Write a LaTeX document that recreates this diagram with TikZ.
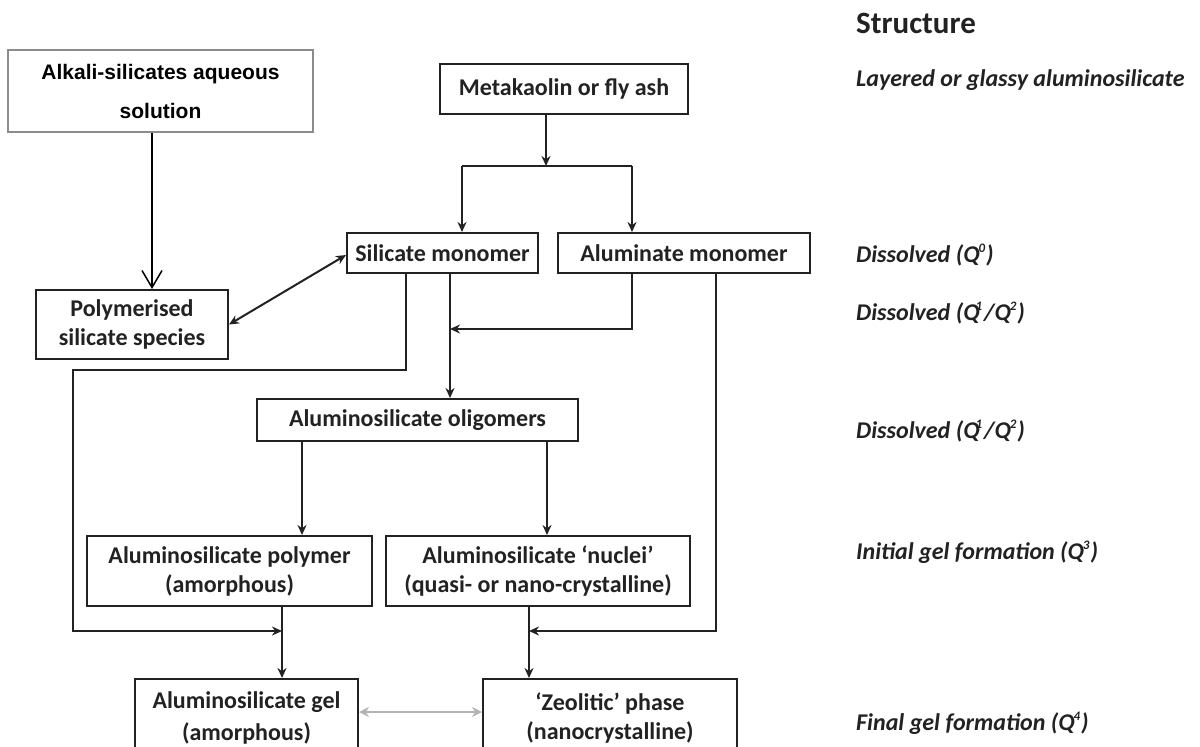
\documentclass[tikz,border=0pt]{standalone}
\usepackage{fontspec}
\setmainfont{Carlito}
\newfontfamily\arialfont{Liberation Sans}
\usetikzlibrary{arrows.meta}
\definecolor{linec}{HTML}{222222}
\definecolor{greyc}{HTML}{B4B4B4}
\definecolor{boxgrey}{HTML}{8C8C8C}
\newcommand{\supq}[2][0pt]{\kern#1\raisebox{9.5pt}{\fontsize{13}{13}\selectfont #2}}
\begin{document}
\begin{tikzpicture}[x=1pt,y=-1pt,
  box/.style={draw=linec, line width=2pt, fill=white, align=center, inner sep=0pt,
    font=\fontsize{24}{29}\selectfont\bfseries, text=linec},
  lab/.style={anchor=base west, inner sep=0pt, font=\fontsize{24}{29}\selectfont\bfseries\itshape, text=linec},
  link/.style={draw=linec, line width=2pt},
  conn/.style={link, -{Stealth[length=10pt,width=9pt]}},
  dconn/.style={link, {Stealth[length=10pt,width=9pt]}-{Stealth[length=10pt,width=9pt]}},
  gconn/.style={draw=greyc, line width=2.6pt, {Stealth[length=10pt,width=10pt]}-{Stealth[length=10pt,width=10pt]}},
  vconn/.style={draw=black, line width=1.5pt, -{Straight Barb[length=17pt,width=20pt,line width=1.5pt]}}
]
\useasboundingbox (0,0) rectangle (1200,747);
\clip (0,0) rectangle (1200,747);

% boxes
\node[box, draw=boxgrey, line width=1.5pt, minimum width=305pt, minimum height=82pt,
  font=\arialfont\fontsize{21}{39}\selectfont\bfseries, text=black]
  (alk) at (160.5,91) {Alkali-silicates aqueous\\solution};
\node[box, minimum width=248pt, minimum height=50pt] (meta) at (564,89) {Metakaolin or fly ash};
\node[box, minimum width=191pt, minimum height=40pt] (sil) at (442.5,253) {Silicate monomer};
\node[box, minimum width=252pt, minimum height=40pt] (alu) at (684,253) {Aluminate monomer};
\node[box, minimum width=192pt, minimum height=69pt] (poly) at (132,324.5) {Polymerised\\silicate species};
\node[box, minimum width=321pt, minimum height=42pt] (olig) at (417.5,420) {Aluminosilicate oligomers};
\node[box, minimum width=285pt, minimum height=70pt] (apoly) at (229.5,571) {Aluminosilicate polymer\\(amorphous)};
\node[box, minimum width=304pt, minimum height=70pt] (nuc) at (538,571) {Aluminosilicate ‘nuclei’\\(quasi- or nano-crystalline)};
\node[box, minimum width=223pt, minimum height=78pt, font=\fontsize{24}{32}\selectfont\bfseries] (gel) at (246.5,718) {Aluminosilicate gel\\(amorphous)};
\node[box, minimum width=254pt, minimum height=78pt] (zeo) at (610,718) {‘Zeolitic’ phase\\(nanocrystalline)};

% junction points
\coordinate (b1) at (546,166);
\coordinate (bl) at (462,166);
\coordinate (br) at (632,166);
\coordinate (jm) at (450,329);
\coordinate (jl) at (282,631);
\coordinate (jr) at (529,631);

% connectors
\draw[vconn] ([xshift=-8.5pt]alk.south) -- ([xshift=20pt]poly.north);
\draw[conn] (meta.south -| b1) -- (b1);
\draw[link] (bl) -- (br);
\draw[conn] (bl) -- (bl |- sil.north);
\draw[conn] (br) -- (br |- alu.north);
\draw[dconn] (poly.east) -- ([yshift=-2pt]sil.west);
\draw[conn] ([xshift=-36.5pt]sil.south) -- ++(0,96) -| (73,631) -- (jl);
\draw[conn] ([xshift=7.5pt]sil.south) -- ([xshift=32.5pt]olig.north);
\draw[conn] ([xshift=-52pt]alu.south) |- (jm);
\draw[conn] ([xshift=32pt]alu.south) |- (jr);
\draw[conn] ([xshift=-115.5pt]olig.south) -- ([xshift=72.5pt]apoly.north);
\draw[conn] ([xshift=129.5pt]olig.south) -- ([xshift=9pt]nuc.north);
\draw[conn] ([xshift=52.5pt]apoly.south) -- ([xshift=35.5pt]gel.north);
\draw[conn] ([xshift=-9pt]nuc.south) -- ([xshift=-81pt]zeo.north);
\draw[gconn] ([yshift=6pt]gel.east) -- ([yshift=6pt]zeo.west);

% structure column
\node[lab, font=\fontsize{31}{36}\selectfont\bfseries] (st) at (856,33) {Structure};
\node[lab] (l1) at (856,86) {Layered or glassy aluminosilicate};
\node[lab] (l2) at (856,262) {Dissolved (Q\supq[-1pt]{0}\kern1pt)};
\node[lab] (l3) at (856,320) {Dissolved (Q\supq[-4pt]{1}\kern2pt/Q\supq[-1pt]{2}\kern1pt)};
\node[lab] (l4) at (856,438) {Dissolved (Q\supq[-4pt]{1}\kern2pt/Q\supq[-1pt]{2}\kern1pt)};
\node[lab] (l5) at (856,559) {Initial gel formation (Q\supq[-1pt]{3}\kern1pt)};
\node[lab] (l6) at (856,730) {Final gel formation (Q\supq[-1pt]{4}\kern1pt)};
\end{tikzpicture}
\end{document}
